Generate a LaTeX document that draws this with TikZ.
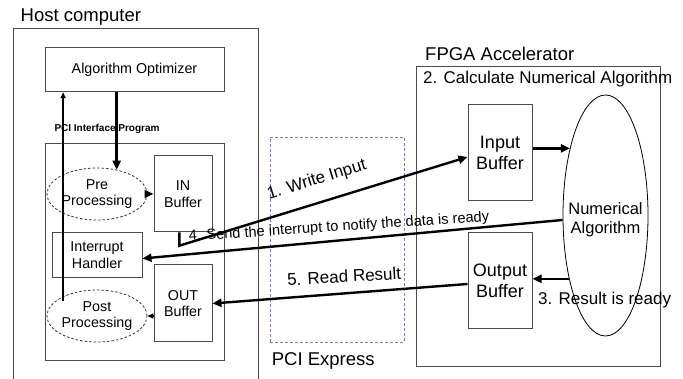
\documentclass[tikz,border=0pt]{standalone}
\usepackage{fontspec}
\setmainfont{Liberation Sans}
\usetikzlibrary{shapes.geometric,arrows.meta}
\definecolor{framegray}{RGB}{75,75,75}
\definecolor{pcieblue}{RGB}{120,120,200}
\begin{document}
\begin{tikzpicture}[x=1pt,y=-1pt,
  box/.style={draw=framegray, line width=1pt, inner sep=0pt, align=center},
  dashell/.style={ellipse, draw=black!80, line width=0.8pt, dash pattern=on 2.5pt off 2pt,
    minimum width=90pt, minimum height=52pt, inner sep=0pt, align=center},
  pciebox/.style={draw=pcieblue, line width=0.9pt, dash pattern=on 3pt off 2pt},
  thickarrow/.style={line width=2.4pt, -{Triangle[length=9pt,width=8pt]}},
  thinarrow/.style={line width=1.5pt, -{Triangle[length=6pt,width=5pt]}},
  titletxt/.style={font=\fontsize{18.5}{21}\selectfont, inner sep=0pt},
  midtxt/.style={font=\fontsize{17}{20}\selectfont, inner sep=0pt},
  buftxt/.style={font=\fontsize{18}{20.5}\selectfont},
  numtxt/.style={font=\fontsize{16.5}{19}\selectfont, align=center, inner sep=0pt},
  smalltxt/.style={font=\fontsize{14.3}{16.8}\selectfont},
  irqtxt/.style={font=\fontsize{14.6}{17}\selectfont, inner sep=0pt},
  tinybold/.style={font=\fontsize{10}{12}\selectfont\bfseries, inner sep=0pt}]

\useasboundingbox (0,0) rectangle (683,379);
\clip (0,0) rectangle (683,379);

% ---------- host side ----------
\node[box, minimum width=244.7pt, minimum height=366.7pt] (host) at (135.65,211.65) {};
\node[titletxt, anchor=base west] (hostlbl) at (20.5,21.7) {Host computer};

\node[box, smalltxt, minimum width=179pt, minimum height=44pt] (opt) at (134.5,69.7) {Algorithm Optimizer};
\node[tinybold, anchor=base west] (pcilbl) at (54.3,132) {PCI Interface Program};
\node[box, minimum width=179pt, minimum height=217pt] (pci) at (134.5,252.5) {};

\node[dashell, smalltxt] (pre) at (97,194) {Pre\\Processing};
\node[box, smalltxt, minimum width=58pt, minimum height=76pt] (inb) at (183,194) {IN\\Buffer};
\node[box, smalltxt, minimum width=90pt, minimum height=45pt] (irq) at (97,255.5) {Interrupt\\Handler};
\node[box, smalltxt, minimum width=58pt, minimum height=77pt] (outb) at (183,303.5) {OUT\\Buffer};
\node[dashell, smalltxt] (post) at (97,316) {Post\\Processing};

% ---------- bus ----------
\node[pciebox, minimum width=134pt, minimum height=205pt] (pcie) at (337,239.5) {};
\node[titletxt, anchor=base west] (pcielbl) at (271.7,365.5) {PCI Express};

% ---------- accelerator ----------
\node[box, minimum width=244pt, minimum height=300pt] (fpga) at (538,217) {};
\node[titletxt, anchor=base west] (fpgalbl) at (425,61) {FPGA Accelerator};
\node[midtxt, anchor=base west] (calc) at (423,84) {2. Calculate Numerical Algorithm};
\node[box, buftxt, minimum width=64pt, minimum height=96pt] (ib) at (500,153) {Input\\Buffer};
\node[box, buftxt, minimum width=64pt, minimum height=96pt] (ob) at (500,281) {Output\\Buffer};
\node[ellipse, draw=black, line width=0.8pt, minimum width=85pt, minimum height=241pt, inner sep=0pt] (num) at (605.5,215.5) {};
\node[numtxt] (numlbl) at (605.5,220) {Numerical\\Algorithm};
\node[midtxt, anchor=base west] (ready) at (538,305) {3. Result is ready};

% ---------- host-internal flow ----------
\draw[thickarrow] (opt.south -| pre.51) -- (pre.51);
\draw[thinarrow] ([yshift=-5pt]post.150) -- (opt.south -| post.150);
\draw[thickarrow] (pre.east) -- (inb.west);
\draw[thinarrow] (outb.west |- post.east) -- (post.east);

% ---------- transfers across the bus ----------
\coordinate (bend) at (179.3,245.7);
\draw[thickarrow] (inb.south -| bend) -- (bend) -- ([yshift=-4pt]ib.west)
  node[midtxt, pos=0.5, rotate=17, anchor=base, yshift=18pt] {1. Write Input};
\draw[thickarrow] ([yshift=-4.5pt]num.west) -- ([yshift=-3pt]irq.east)
  node[irqtxt, pos=0.53, rotate=3.8, anchor=base, yshift=9.4pt] {4. Send the interrupt to notify the data is ready};
\draw[thickarrow] ([yshift=-3pt]ob.west) -- (outb.east)
  node[midtxt, pos=0.48, rotate=3.3, anchor=base, yshift=11pt] {5. Read Result};

% ---------- accelerator-internal flow ----------
\draw[thickarrow] (ib.east |- num.118) -- (num.118);
\draw[thickarrow] (num.240) -- (ob.east |- num.240);
\end{tikzpicture}
\end{document}
